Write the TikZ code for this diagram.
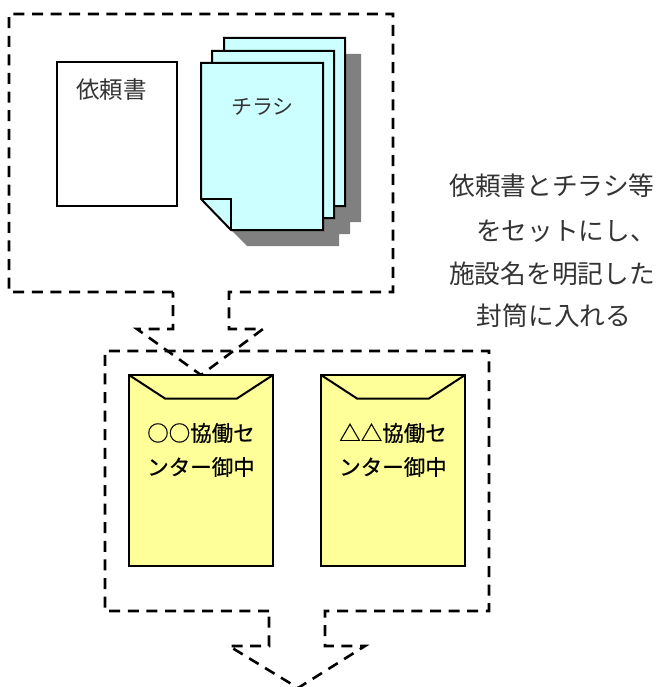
\documentclass[tikz,border=0pt]{standalone}
\usepackage{fontspec}
\setmainfont{Noto Sans CJK JP}
\newfontfamily\envfont[FakeBold=0.6]{Noto Sans CJK JP}
\definecolor{sheetcyan}{HTML}{CCFFFF}
\definecolor{envyellow}{HTML}{FFFF99}
\definecolor{shadowgray}{HTML}{808080}
\tikzset{
  sheet/.style={draw=black,line width=2pt,line join=miter},
  callout/.style={draw=black,line width=2.6pt,dash pattern=on 11pt off 7.6pt},
  every node/.style={inner sep=0pt,text=black!80},
  envtext/.style={text=black,font=\envfont\fontsize{21.5pt}{24pt}\selectfont},
  notetext/.style={font=\fontsize{25.7pt}{28pt}\selectfont},
}
\begin{document}
\begin{tikzpicture}[x=1pt,y=1pt]
\useasboundingbox (0,0) rectangle (663,-687);
% upper callout
\draw [callout] (173,-292) -- (9,-292) -- (9,-14) -- (393,-14) -- (393,-292) -- (229,-292) -- (229,-329) -- (263,-329) -- (201,-375) -- (137,-329) -- (173,-329) -- cycle;
% request sheet
\draw [sheet,fill=white] (57,-62) rectangle (177,-206);
\node (request) at (111.5,-90) {\fontsize{23.5pt}{26pt}\selectfont 依頼書};
% flyers
\fill [shadowgray] (240,-54) -- (361,-54) -- (361,-222) -- (350,-222) -- (350,-234) -- (339,-234) -- (339,-246) -- (247,-246) -- (231,-230) -- cycle;
\draw [sheet,fill=sheetcyan] (224,-38) -- (345,-38) -- (345,-206) -- (254,-206) -- (224,-175) -- cycle;
\draw [sheet,fill=sheetcyan] (212,-51) -- (334,-51) -- (334,-218) -- (242,-218) -- (212,-187) -- cycle;
\draw [sheet,fill=sheetcyan] (201,-63) -- (323,-63) -- (323,-230) -- (231,-230) -- (201,-199) -- cycle;
\draw [sheet] (201,-199) -- (231,-199) -- (231,-230);
\node (flyer) at (262.5,-107) {\fontsize{21pt}{24pt}\selectfont チラシ};
% lower callout
\draw [callout] (269,-611) -- (105,-611) -- (105,-351) -- (489,-351) -- (489,-611) -- (325,-611) -- (325,-646) -- (365,-646) -- (298,-688) -- (229,-646) -- (269,-646) -- cycle;
% envelopes
\draw [sheet,fill=envyellow] (129,-375) rectangle (273,-566);
\draw [sheet] (129,-375) -- (165,-398.5) -- (237,-398.5) -- (273,-375);
\node [envtext] (envA1) at (201,-433) {○○協働セ};
\node [envtext] (envA2) at (201,-467) {ンター御中};
\draw [sheet,fill=envyellow] (321,-375) rectangle (465,-566);
\draw [sheet] (321,-375) -- (357,-398.5) -- (429,-398.5) -- (465,-375);
\node [envtext] (envB1) at (393,-433) {△△協働セ};
\node [envtext] (envB2) at (393,-467) {ンター御中};
% side note
\node [notetext] (noteA) at (552,-186) {依頼書とチラシ等};
\node [notetext] (noteB) at (566,-231) {をセットにし、};
\node [notetext] (noteC) at (552,-274) {施設名を明記した};
\node [notetext] (noteD) at (554,-316) {封筒に入れる};
\end{tikzpicture}
\end{document}
